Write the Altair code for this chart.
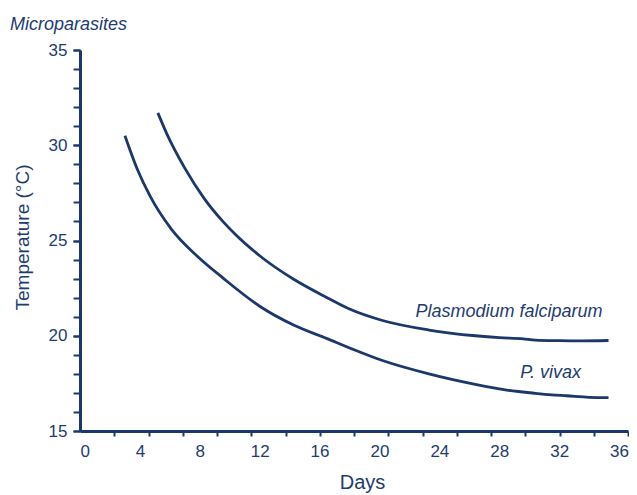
import altair as alt
import pandas as pd

# ---- data ----
falc_days = [5.2, 5.8, 7.0, 8.3, 9.6, 10.4, 12.0, 14.3, 16.5, 18.0, 20.2, 23.3, 26.4, 28.0, 29.6, 30.4, 32.0, 33.5, 35.3]
falc_temp = [31.7, 30.6, 28.8, 27.2, 25.95, 25.3, 24.2, 22.95, 22.0, 21.4, 20.8, 20.3, 20.0, 19.9, 19.84, 19.77, 19.74, 19.73, 19.75]

vivax_days = [3.0, 3.85, 4.7, 6.1, 7.8, 9.6, 12.0, 14.3, 16.5, 18.2, 20.2, 23.3, 26.4, 28.5, 30.4, 31.5, 32.5, 34.0, 35.3]
vivax_temp = [30.5, 28.7, 27.3, 25.6, 24.2, 23.0, 21.55, 20.55, 19.85, 19.3, 18.7, 18.0, 17.45, 17.15, 16.98, 16.9, 16.85, 16.77, 16.75]

series_names = ["Plasmodium falciparum", "P. vivax"]
label_text = ["Plasmodium falciparum", "P. vivax"]
label_day = [22.4, 29.4]
label_temp = [20.98, 17.78]

x_tick_labels = [0, 4, 8, 12, 16, 20, 24, 28, 32, 36]
y_tick_labels = [15, 20, 25, 30, 35]
y_minor_ticks = list(range(15, 36))
minor_x_ticks = list(range(1, 17))

NAVY = "#1b376b"
TEXT = "#1e3c71"
FONT = "Liberation Sans"

rows = []
for d, t in zip(falc_days, falc_temp):
    rows.append({"series": series_names[0], "day": d, "temp": t})
for d, t in zip(vivax_days, vivax_temp):
    rows.append({"series": series_names[1], "day": d, "temp": t})
df = pd.DataFrame(rows)

labels_df = pd.DataFrame({"text": label_text, "day": label_day, "temp": label_temp})
minor_x_df = pd.DataFrame({"k": minor_x_ticks})
minor_y_df = pd.DataFrame({"v": y_minor_ticks})

x_scale = alt.Scale(domain=[0, 36.6], nice=False, zero=False)
y_scale = alt.Scale(domain=[15, 35], nice=False, zero=False)

x_axis = alt.Axis(
    values=x_tick_labels, ticks=False, grid=False, domainColor=NAVY, domainWidth=3,
    labelFont=FONT, labelFontSize=17, labelColor=TEXT, labelPadding=12,
    labelOverlap=False,
    title="Days", titleFont=FONT, titleFontSize=20, titleFontWeight="normal", titleColor=TEXT,
    titleX=282, titleY=51, titleAlign="center", titleBaseline="middle", orient="bottom",
)
y_axis = alt.Axis(
    values=y_tick_labels, grid=False, domainColor=NAVY, domainWidth=3,
    ticks=True, tickSize=7, tickWidth=2, tickColor=NAVY,
    labelOverlap=False, labelFlush=False,
    labelFont=FONT, labelFontSize=17, labelColor=TEXT, labelPadding=6,
    title="Temperature (°C)", titleFont=FONT, titleFontSize=19, titleFontWeight="normal", titleColor=TEXT,
    titleAngle=-90, titleX=-58, titleY=187, titleAlign="center", titleBaseline="middle",
    orient="left",
)

lines = alt.Chart(df).mark_line(
    color=NAVY, strokeWidth=2.8, interpolate="monotone"
).encode(
    x=alt.X("day:Q", scale=x_scale, axis=x_axis),
    y=alt.Y("temp:Q", scale=y_scale, axis=y_axis),
    detail="series:N",
)

texts = alt.Chart(labels_df).mark_text(
    align="left", baseline="alphabetic", font=FONT, fontSize=18, fontStyle="italic", color=TEXT
).encode(
    x=alt.X("day:Q", scale=x_scale, axis=x_axis),
    y=alt.Y("temp:Q", scale=y_scale, axis=y_axis),
    text="text:N",
)

heading = alt.Chart(pd.DataFrame({"t": ["Microparasites"]})).mark_text(
    align="left", baseline="alphabetic", font=FONT, fontSize=18, fontStyle="italic", color=TEXT
).encode(x=alt.value(-70), y=alt.value(-20), text="t:N")

base = alt.layer(lines, texts, heading)

minor_x = alt.Chart(minor_x_df).mark_point(opacity=0).encode(
    x=alt.X("k:Q", scale=alt.Scale(domain=[0, 16], nice=False, zero=False),
            axis=alt.Axis(values=minor_x_ticks, labels=False, domain=False, ticks=True,
                          tickSize=5, tickWidth=2, tickColor=NAVY, grid=False,
                          title=None, orient="bottom")),
)

minor_y = alt.Chart(minor_y_df).mark_point(opacity=0).encode(
    y=alt.Y("v:Q", scale=alt.Scale(domain=[15, 35], nice=False, zero=False),
            axis=alt.Axis(values=y_minor_ticks, labels=False, domain=False, ticks=True,
                          tickSize=7, tickWidth=2, tickColor=NAVY, grid=False,
                          title=None, orient="left")),
)

chart = alt.layer(base, minor_x, minor_y).resolve_scale(
    x="independent", y="independent"
).properties(
    width=548, height=381,
    autosize=alt.AutoSizeParams(type="none"),
    padding={"left": 72, "top": 42, "right": 1, "bottom": 64},
).configure(background="white").configure_view(stroke=None)

chart.save("out.html", embed_options={"renderer": "svg", "actions": False})
